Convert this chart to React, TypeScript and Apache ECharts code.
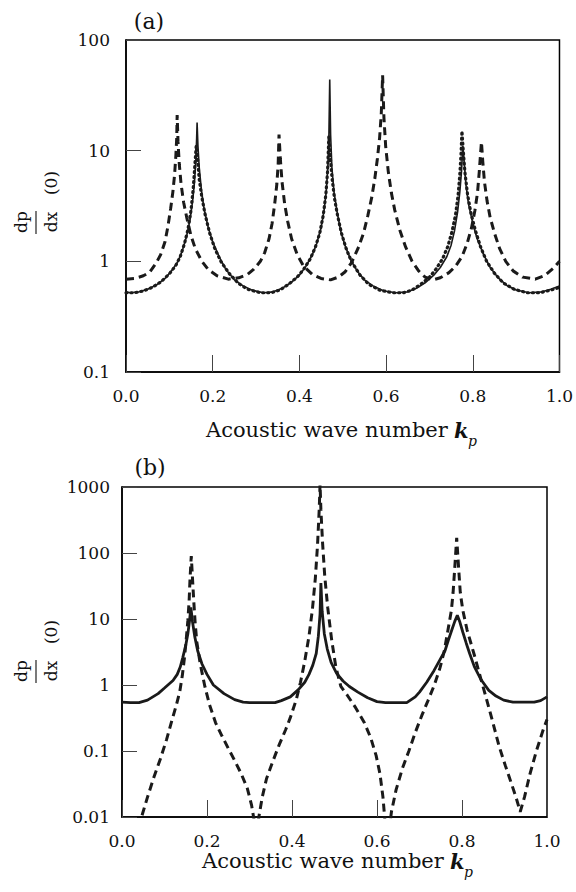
import React, { useEffect, useRef } from "react";
import * as echarts from "echarts";

const xTicks = ["0.0", "0.2", "0.4", "0.6", "0.8", "1.0"];
const yTicksA = ["0.1", "1", "10", "100"];
const yTicksB = ["0.01", "0.1", "1", "10", "100", "1000"];

// Panel (a): solid line
const aSolid: [number, number][] = [
  [0.0, 0.53], [0.01, 0.52], [0.03, 0.53], [0.05, 0.56], [0.07, 0.61], [0.09, 0.7], [0.105, 0.82],
  [0.12, 1.0], [0.13, 1.25], [0.14, 1.7], [0.148, 2.4], [0.154, 3.6], [0.158, 5.2], [0.161, 8],
  [0.163, 13], [0.164, 18], [0.166, 11], [0.169, 7], [0.174, 4.4], [0.18, 3.0], [0.19, 2.0],
  [0.2, 1.5], [0.215, 1.1], [0.23, 0.85], [0.25, 0.68], [0.27, 0.6], [0.29, 0.55], [0.317, 0.52],
  [0.34, 0.53], [0.36, 0.57], [0.38, 0.64], [0.4, 0.75], [0.415, 0.9], [0.43, 1.15], [0.44, 1.45],
  [0.45, 2.0], [0.457, 2.9], [0.462, 4.3], [0.466, 7.5], [0.468, 13], [0.47, 44], [0.472, 14],
  [0.475, 7], [0.48, 4.2], [0.487, 2.8], [0.495, 1.9], [0.505, 1.4], [0.52, 1.0], [0.535, 0.8],
  [0.55, 0.68], [0.57, 0.6], [0.595, 0.54], [0.623, 0.52], [0.65, 0.53], [0.67, 0.57], [0.69, 0.64],
  [0.71, 0.75], [0.725, 0.88], [0.74, 1.1], [0.75, 1.4], [0.758, 1.9], [0.765, 2.8], [0.77, 4.2],
  [0.774, 6.5], [0.777, 11], [0.78, 8], [0.784, 5], [0.79, 3.3], [0.8, 2.2], [0.81, 1.6],
  [0.825, 1.15], [0.84, 0.88], [0.86, 0.7], [0.88, 0.6], [0.9, 0.55], [0.93, 0.52], [0.96, 0.53],
  [0.98, 0.56], [1.0, 0.6],
];

// Panel (a): dotted line
const aDotted: [number, number][] = [
  [0.0, 0.52], [0.02, 0.52], [0.04, 0.54], [0.06, 0.58], [0.08, 0.65], [0.1, 0.77], [0.115, 0.92],
  [0.125, 1.1], [0.135, 1.45], [0.143, 1.95], [0.15, 2.9], [0.155, 4.5], [0.159, 7.5], [0.162, 11],
  [0.165, 8.5], [0.169, 5.5], [0.175, 3.8], [0.183, 2.6], [0.193, 1.8], [0.205, 1.3], [0.22, 0.98],
  [0.24, 0.76], [0.26, 0.63], [0.28, 0.56], [0.31, 0.52], [0.335, 0.52], [0.355, 0.55], [0.375, 0.62],
  [0.395, 0.72], [0.41, 0.85], [0.425, 1.05], [0.437, 1.35], [0.447, 1.8], [0.455, 2.6], [0.461, 4.0],
  [0.465, 6.5], [0.468, 13.5], [0.471, 9], [0.475, 5.8], [0.481, 3.7], [0.488, 2.6], [0.497, 1.8],
  [0.508, 1.3], [0.52, 1.0], [0.54, 0.75], [0.56, 0.62], [0.585, 0.55], [0.615, 0.52], [0.64, 0.52],
  [0.66, 0.55], [0.68, 0.62], [0.7, 0.72], [0.715, 0.85], [0.73, 1.05], [0.742, 1.35], [0.752, 1.85],
  [0.76, 2.6], [0.766, 3.9], [0.77, 6], [0.773, 9.5], [0.775, 15], [0.778, 10], [0.782, 6.3],
  [0.788, 4.0], [0.796, 2.7], [0.806, 1.9], [0.818, 1.35], [0.832, 1.0], [0.85, 0.78], [0.87, 0.64],
  [0.895, 0.56], [0.925, 0.52], [0.955, 0.52], [0.98, 0.55], [1.0, 0.58],
];

// Panel (a): dashed line
const aDashed: [number, number][] = [
  [0.0, 0.69], [0.02, 0.7], [0.04, 0.74], [0.055, 0.8], [0.07, 0.97], [0.08, 1.15], [0.09, 1.5],
  [0.097, 2.1], [0.103, 3.0], [0.108, 4.2], [0.112, 6.0], [0.115, 9], [0.117, 13], [0.118, 21],
  [0.12, 12], [0.123, 7.5], [0.127, 5], [0.133, 3.4], [0.14, 2.5], [0.15, 1.7], [0.16, 1.3],
  [0.175, 1.0], [0.19, 0.84], [0.21, 0.74], [0.236, 0.69], [0.26, 0.71], [0.28, 0.76], [0.295, 0.85],
  [0.31, 1.0], [0.32, 1.2], [0.33, 1.6], [0.337, 2.2], [0.343, 3.3], [0.348, 5], [0.351, 7.5],
  [0.353, 14], [0.356, 8.5], [0.36, 5.2], [0.366, 3.3], [0.373, 2.3], [0.382, 1.6], [0.395, 1.15],
  [0.41, 0.9], [0.43, 0.76], [0.45, 0.7], [0.472, 0.68], [0.49, 0.72], [0.505, 0.8], [0.52, 0.97],
  [0.535, 1.3], [0.548, 1.8], [0.558, 2.6], [0.567, 3.8], [0.574, 5.6], [0.58, 8.5], [0.585, 13],
  [0.589, 22], [0.592, 48], [0.595, 20], [0.599, 11], [0.605, 6.5], [0.612, 4.2], [0.62, 2.9],
  [0.632, 1.9], [0.645, 1.35], [0.66, 1.0], [0.675, 0.82], [0.69, 0.72], [0.708, 0.68], [0.725, 0.71],
  [0.745, 0.79], [0.76, 0.9], [0.775, 1.1], [0.787, 1.45], [0.797, 2.0], [0.805, 2.9], [0.811, 4.2],
  [0.815, 6.5], [0.818, 9.5], [0.82, 12], [0.823, 8], [0.827, 5.2], [0.833, 3.5], [0.84, 2.5],
  [0.85, 1.8], [0.862, 1.3], [0.876, 1.0], [0.893, 0.82], [0.915, 0.72], [0.944, 0.69], [0.965, 0.74],
  [0.985, 0.86], [1.0, 1.0],
];

// Panel (b): solid line
const bSolid: [number, number][] = [
  [0.0, 0.55], [0.02, 0.54], [0.04, 0.54], [0.06, 0.59], [0.085, 0.74], [0.1, 0.9], [0.12, 1.17],
  [0.13, 1.45], [0.137, 1.87], [0.143, 2.6], [0.15, 4], [0.155, 6], [0.159, 9.5], [0.162, 15],
  [0.166, 9], [0.171, 5.5], [0.178, 3.3], [0.188, 2.1], [0.2, 1.45], [0.215, 1.0], [0.24, 0.74],
  [0.265, 0.6], [0.285, 0.55], [0.3, 0.54], [0.36, 0.54], [0.375, 0.58], [0.396, 0.66], [0.415, 0.85],
  [0.43, 1.1], [0.44, 1.45], [0.449, 2.0], [0.457, 3.0], [0.462, 5.5], [0.466, 12], [0.468, 35],
  [0.471, 13], [0.476, 6], [0.483, 3.5], [0.492, 2.2], [0.505, 1.5], [0.52, 1.15], [0.535, 0.95],
  [0.555, 0.78], [0.578, 0.64], [0.6, 0.56], [0.62, 0.54], [0.67, 0.54], [0.69, 0.66], [0.7, 0.78],
  [0.717, 1.1], [0.734, 1.65], [0.748, 2.4], [0.76, 3.3], [0.768, 4.8], [0.776, 6.8], [0.783, 9.2],
  [0.789, 11.4], [0.795, 9], [0.802, 6.3], [0.81, 4.3], [0.818, 3.0], [0.829, 1.9], [0.845, 1.2],
  [0.863, 0.83], [0.88, 0.68], [0.898, 0.59], [0.92, 0.55], [0.97, 0.55], [0.985, 0.58], [1.0, 0.66],
];

// Panel (b): dashed line
const bDashed: [number, number][] = [
  [0.0, 0.002], [0.02, 0.0035], [0.046, 0.01], [0.06, 0.02], [0.075, 0.04], [0.09, 0.075],
  [0.105, 0.15], [0.118, 0.3], [0.128, 0.5], [0.136, 0.8], [0.142, 1.4], [0.147, 2.6], [0.151, 4.8],
  [0.155, 9.5], [0.158, 19], [0.16, 40], [0.163, 90], [0.166, 40], [0.169, 18], [0.172, 9],
  [0.176, 4.5], [0.184, 2.1], [0.195, 0.95], [0.206, 0.5], [0.22, 0.27], [0.235, 0.17],
  [0.25, 0.11], [0.265, 0.072], [0.28, 0.046], [0.295, 0.027], [0.305, 0.015], [0.312, 0.008],
  [0.316, 0.004], [0.322, 0.01], [0.33, 0.02], [0.34, 0.038], [0.355, 0.07], [0.37, 0.125],
  [0.385, 0.21], [0.396, 0.32], [0.41, 0.6], [0.42, 1.1], [0.43, 2.3], [0.44, 5.5], [0.448, 14],
  [0.455, 42], [0.46, 130], [0.464, 450], [0.466, 1100], [0.468, 450], [0.472, 140], [0.477, 45],
  [0.484, 15], [0.493, 5], [0.503, 1.9], [0.515, 0.95], [0.53, 0.7], [0.55, 0.45], [0.57, 0.27],
  [0.585, 0.16], [0.598, 0.085], [0.607, 0.045], [0.614, 0.02], [0.62, 0.007], [0.624, 0.004],
  [0.628, 0.006], [0.634, 0.012], [0.645, 0.026], [0.66, 0.055], [0.675, 0.1], [0.69, 0.19],
  [0.705, 0.34], [0.72, 0.58], [0.735, 1.0], [0.748, 1.8], [0.758, 3.2], [0.767, 6.8], [0.775, 13.5],
  [0.779, 25], [0.783, 60], [0.7875, 170], [0.792, 60], [0.796, 25], [0.802, 13.5], [0.812, 6.8],
  [0.83, 2.7], [0.845, 1.2], [0.858, 0.6], [0.872, 0.28], [0.887, 0.12], [0.902, 0.06],
  [0.915, 0.034], [0.927, 0.02], [0.937, 0.012], [0.947, 0.02], [0.96, 0.045], [0.975, 0.1],
  [0.99, 0.2], [1.0, 0.3],
];

const SERIF = "DejaVu Serif";
const INK = "#1a1a1a";

function xAxisFor(gridIndex: number) {
  return {
    gridIndex,
    type: "value",
    min: 0,
    max: 1,
    interval: 0.2,
    axisLine: { show: true, lineStyle: { color: "#000", width: 1.5 } },
    axisTick: { show: true, inside: true, length: 17, lineStyle: { color: "#444", width: 1 } },
    axisLabel: {
      margin: 15,
      color: "#111",
      fontFamily: SERIF,
      fontSize: 17,
      formatter: (v: number) => xTicks[Math.round(v / 0.2)] ?? "",
    },
    splitLine: { show: false },
  };
}

function yAxisFor(gridIndex: number, min: number, max: number, labels: string[], margin: number) {
  const base = Math.round(Math.log10(min));
  return {
    gridIndex,
    type: "log",
    logBase: 10,
    min,
    max,
    axisLine: { show: true, lineStyle: { color: "#000", width: 1.5 } },
    axisTick: { show: true, inside: true, length: 15, lineStyle: { color: "#444", width: 1 } },
    minorTick: { show: false },
    axisLabel: {
      margin,
      color: "#111",
      fontFamily: SERIF,
      fontSize: 17,
      formatter: (v: number) => labels[Math.round(Math.log10(v)) - base] ?? "",
    },
    splitLine: { show: false },
  };
}

const textStyle = (text: string, size: number) => ({
  text,
  font: `${size}px '${SERIF}'`,
  fill: "#111",
  textAlign: "center",
  textVerticalAlign: "middle",
  align: "center",
  verticalAlign: "middle",
});

function yTitle(cy: number) {
  // group rotated 90deg counter-clockwise; local +x points up, local +y points right
  return {
    type: "group",
    x: 36,
    y: cy,
    rotation: Math.PI / 2,
    children: [
      { type: "text", x: 0, y: -15, style: textStyle("dp", 17) },
      { type: "line", shape: { x1: -12, y1: 0, x2: 11, y2: 0 }, style: { stroke: "#222", lineWidth: 1.2 } },
      { type: "text", x: 0, y: 15, style: textStyle("dx", 17) },
      { type: "text", x: 39, y: 15, style: textStyle("(0)", 17) },
    ],
  };
}

function xTitle(x0: number, cy: number) {
  return [
    {
      type: "text", x: x0, y: cy,
      style: { text: "Acoustic wave number", font: `21px '${SERIF}'`, fill: "#111", textAlign: "left", textVerticalAlign: "middle" },
    },
    {
      type: "text", x: x0 + 248, y: cy,
      style: { text: "k", font: `italic bold 21px '${SERIF}'`, fill: "#111", textAlign: "left", textVerticalAlign: "middle" },
    },
    {
      type: "text", x: x0 + 262, y: cy + 11,
      style: { text: "p", font: `italic 14px '${SERIF}'`, fill: "#111", textAlign: "left", textVerticalAlign: "middle" },
    },
  ];
}

export default function App() {
  const ref = useRef<HTMLDivElement>(null);
  useEffect(() => {
    if (!ref.current) return;
    const chart = echarts.init(ref.current, undefined, { renderer: "svg" });
    const solid = (w: number) => ({ color: INK, width: w, type: "solid" });
    const dashed = { color: INK, width: 3, type: [8, 5], cap: "butt" };
    const dotted = { color: INK, width: 3.2, type: [1, 4], cap: "round" };
    chart.setOption({
      animation: false,
      backgroundColor: "#fff",
      grid: [
        { left: 126, top: 40, width: 436, height: 332, show: true, borderColor: "#000", borderWidth: 1.5, backgroundColor: "transparent" },
        { left: 122, top: 487, width: 425, height: 330, show: true, borderColor: "#000", borderWidth: 1.5, backgroundColor: "transparent" },
      ],
      xAxis: [xAxisFor(0), xAxisFor(1)],
      yAxis: [yAxisFor(0, 0.1, 100, yTicksA, 16), yAxisFor(1, 0.01, 1000, yTicksB, 12)],
      series: [
        { name: "a-solid", type: "line", xAxisIndex: 0, yAxisIndex: 0, data: aSolid, showSymbol: false, lineStyle: solid(1.6), clip: true },
        { name: "a-dotted", type: "line", xAxisIndex: 0, yAxisIndex: 0, data: aDotted, showSymbol: false, lineStyle: dotted, clip: true },
        { name: "a-dashed", type: "line", xAxisIndex: 0, yAxisIndex: 0, data: aDashed, showSymbol: false, lineStyle: dashed, clip: true },
        { name: "b-solid", type: "line", xAxisIndex: 1, yAxisIndex: 1, data: bSolid, showSymbol: false, lineStyle: solid(2.8), clip: true },
        { name: "b-dashed", type: "line", xAxisIndex: 1, yAxisIndex: 1, data: bDashed, showSymbol: false, lineStyle: dashed, clip: true },
      ],
      graphic: [
        { type: "text", x: 149, y: 21, style: textStyle("(a)", 22) },
        { type: "text", x: 150, y: 467, style: textStyle("(b)", 22) },
        yTitle(222),
        yTitle(671),
        ...xTitle(206, 430),
        ...xTitle(202, 861),
      ],
    });
    return () => chart.dispose();
  }, []);
  return <div ref={ref} style={{ position: "fixed", left: 0, top: 0, width: 576, height: 892, background: "#fff" }} />;
}
